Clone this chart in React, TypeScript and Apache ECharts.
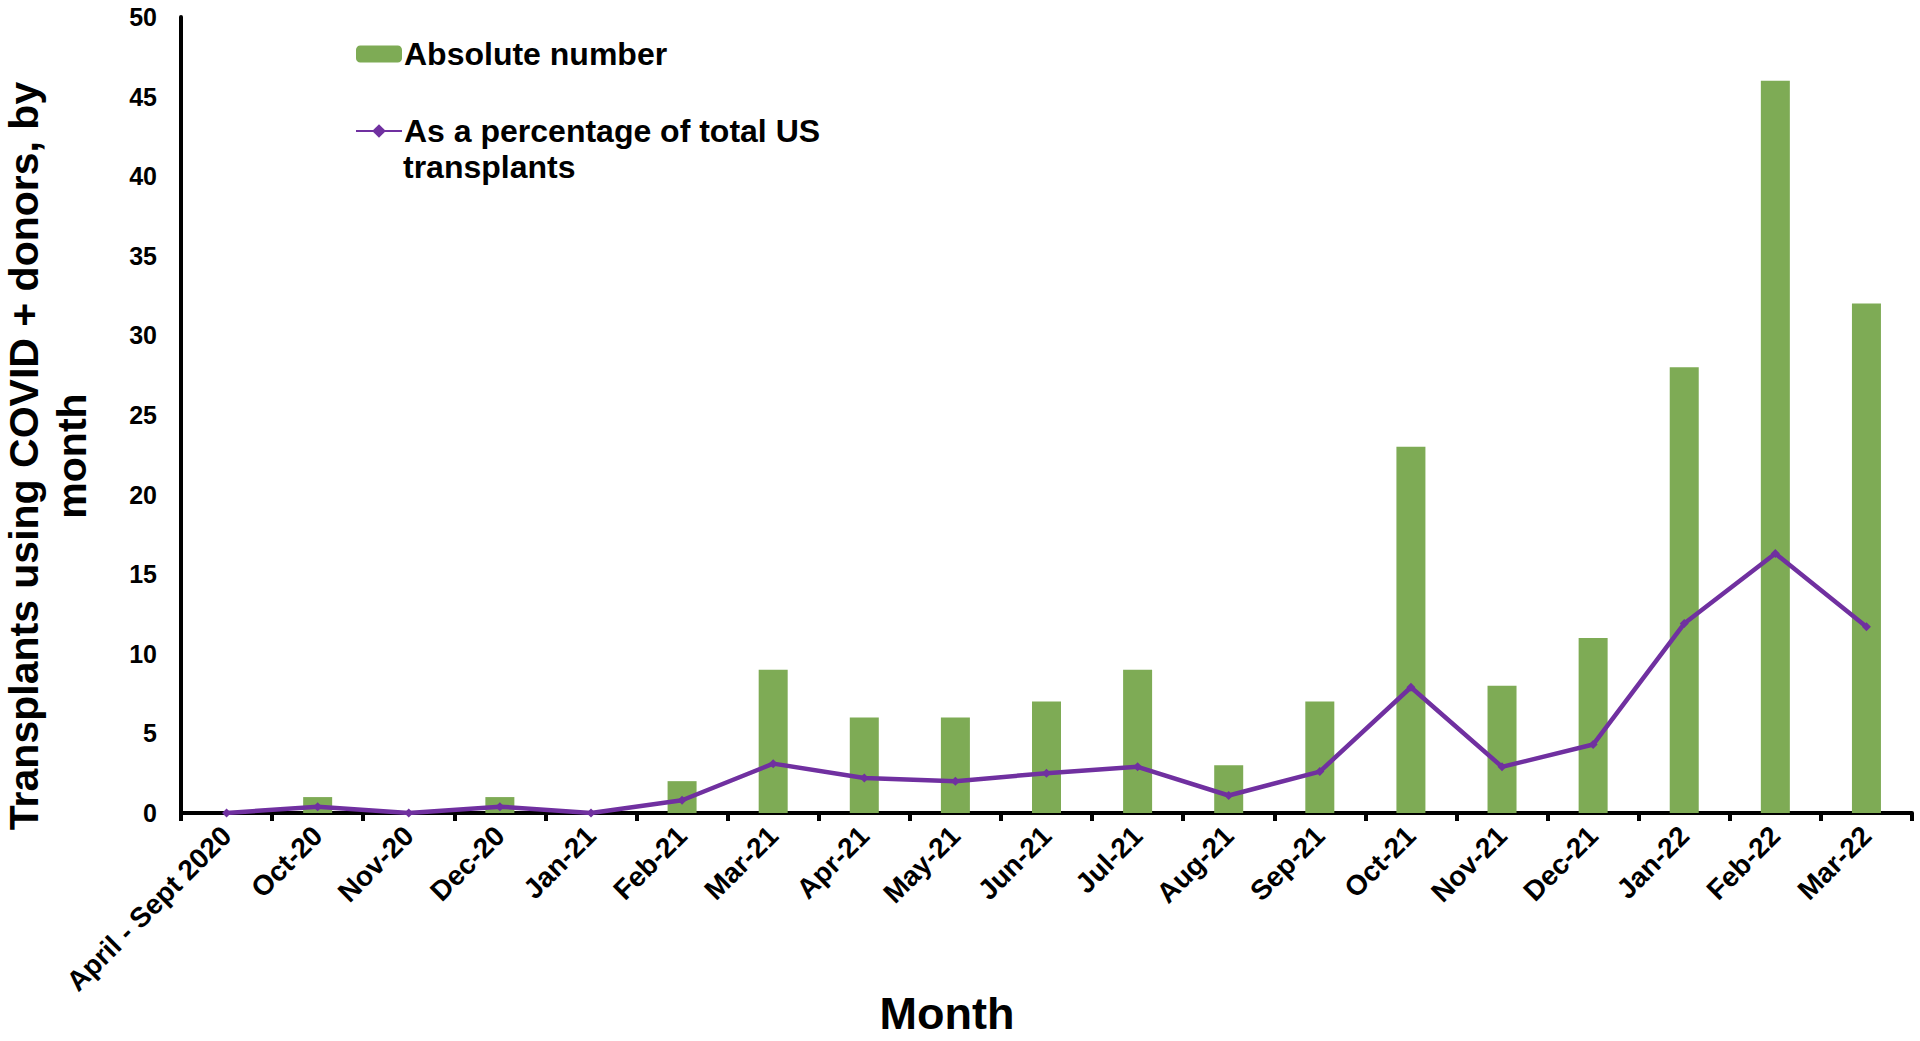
import React, { useEffect, useRef } from "react";
import * as echarts from "echarts";

const categories = [
  "April - Sept 2020", "Oct-20", "Nov-20", "Dec-20", "Jan-21", "Feb-21", "Mar-21",
  "Apr-21", "May-21", "Jun-21", "Jul-21", "Aug-21", "Sep-21", "Oct-21", "Nov-21",
  "Dec-21", "Jan-22", "Feb-22", "Mar-22",
];
const absoluteNumber = [0, 1, 0, 1, 0, 2, 9, 6, 6, 7, 9, 3, 7, 23, 8, 11, 28, 46, 32];
const percentOfUS = [0, 0.4, 0, 0.4, 0, 0.8, 3.1, 2.2, 2.0, 2.5, 2.9, 1.1, 2.6, 7.9, 2.9, 4.3, 11.9, 16.3, 11.7];

const seriesNames = ["Absolute number", "As a percentage of total US"];
const legendSecondLine = "transplants";
const yTitle = "Transplants using COVID + donors, by\nmonth";
const xTitle = "Month";

const FONT = "'Liberation Sans', Arial, Helvetica, sans-serif";
const GREEN = "#7EAB55";
const PURPLE = "#7030A0";

export default function App() {
  const ref = useRef<HTMLDivElement>(null);
  useEffect(() => {
    if (!ref.current) return;
    const chart = echarts.init(ref.current, null, { renderer: "svg" });
    chart.setOption({
      animation: false,
      backgroundColor: "#ffffff",
      textStyle: { fontFamily: FONT },
      grid: { left: 181, right: 8, top: 17, bottom: 228, containLabel: false },
      legend: {
        orient: "vertical",
        left: 350,
        top: 33,
        itemWidth: 46,
        itemHeight: 17,
        itemGap: 45,
        data: seriesNames,
        textStyle: { fontFamily: FONT, fontSize: 32, fontWeight: "bold", color: "#000", padding: [0, 0, 0, -3] },
      },
      xAxis: {
        type: "category",
        data: categories,
        boundaryGap: true,
        axisLine: { show: true, lineStyle: { color: "#000", width: 4 } },
        axisTick: { show: true, alignWithLabel: false, length: 8, lineStyle: { color: "#000", width: 4 } },
        axisLabel: {
          interval: 0,
          rotate: 45,
          margin: 18,
          fontFamily: FONT,
          fontSize: 28,
          fontWeight: "bold",
          color: "#000",
        },
        splitLine: { show: false },
      },
      yAxis: {
        type: "value",
        min: 0,
        max: 50,
        interval: 5,
        axisLine: { show: true, lineStyle: { color: "#000", width: 4 } },
        axisTick: { show: false },
        splitLine: { show: false },
        axisLabel: { margin: 24, fontFamily: FONT, fontSize: 25, fontWeight: "bold", color: "#000" },
      },
      series: [
        {
          name: seriesNames[0],
          type: "bar",
          data: absoluteNumber,
          barWidth: 29,
          itemStyle: { color: GREEN },
        },
        {
          name: seriesNames[1],
          type: "line",
          data: percentOfUS,
          symbol: "diamond",
          symbolSize: 9,
          showSymbol: true,
          lineStyle: { color: PURPLE, width: 4.5 },
          itemStyle: { color: PURPLE },
          z: 5,
        },
      ],
      graphic: [
        {
          type: "text",
          left: 403,
          top: 151,
          style: { text: legendSecondLine, font: `bold 32px ${FONT}`, fill: "#000" },
        },
        {
          type: "text",
          x: 48,
          y: 456,
          rotation: Math.PI / 2,
          style: {
            text: yTitle,
            font: `bold 41px ${FONT}`,
            fill: "#000",
            align: "center",
            verticalAlign: "middle",
            lineHeight: 48,
          },
        },
        {
          type: "text",
          x: 947,
          y: 1013,
          style: {
            text: xTitle,
            font: `bold 45px ${FONT}`,
            fill: "#000",
            align: "center",
            verticalAlign: "middle",
          },
        },
      ],
    });
    return () => chart.dispose();
  }, []);
  return (
    <div
      ref={ref}
      style={{ position: "fixed", left: 0, top: 0, width: 1920, height: 1041 }}
    />
  );
}
